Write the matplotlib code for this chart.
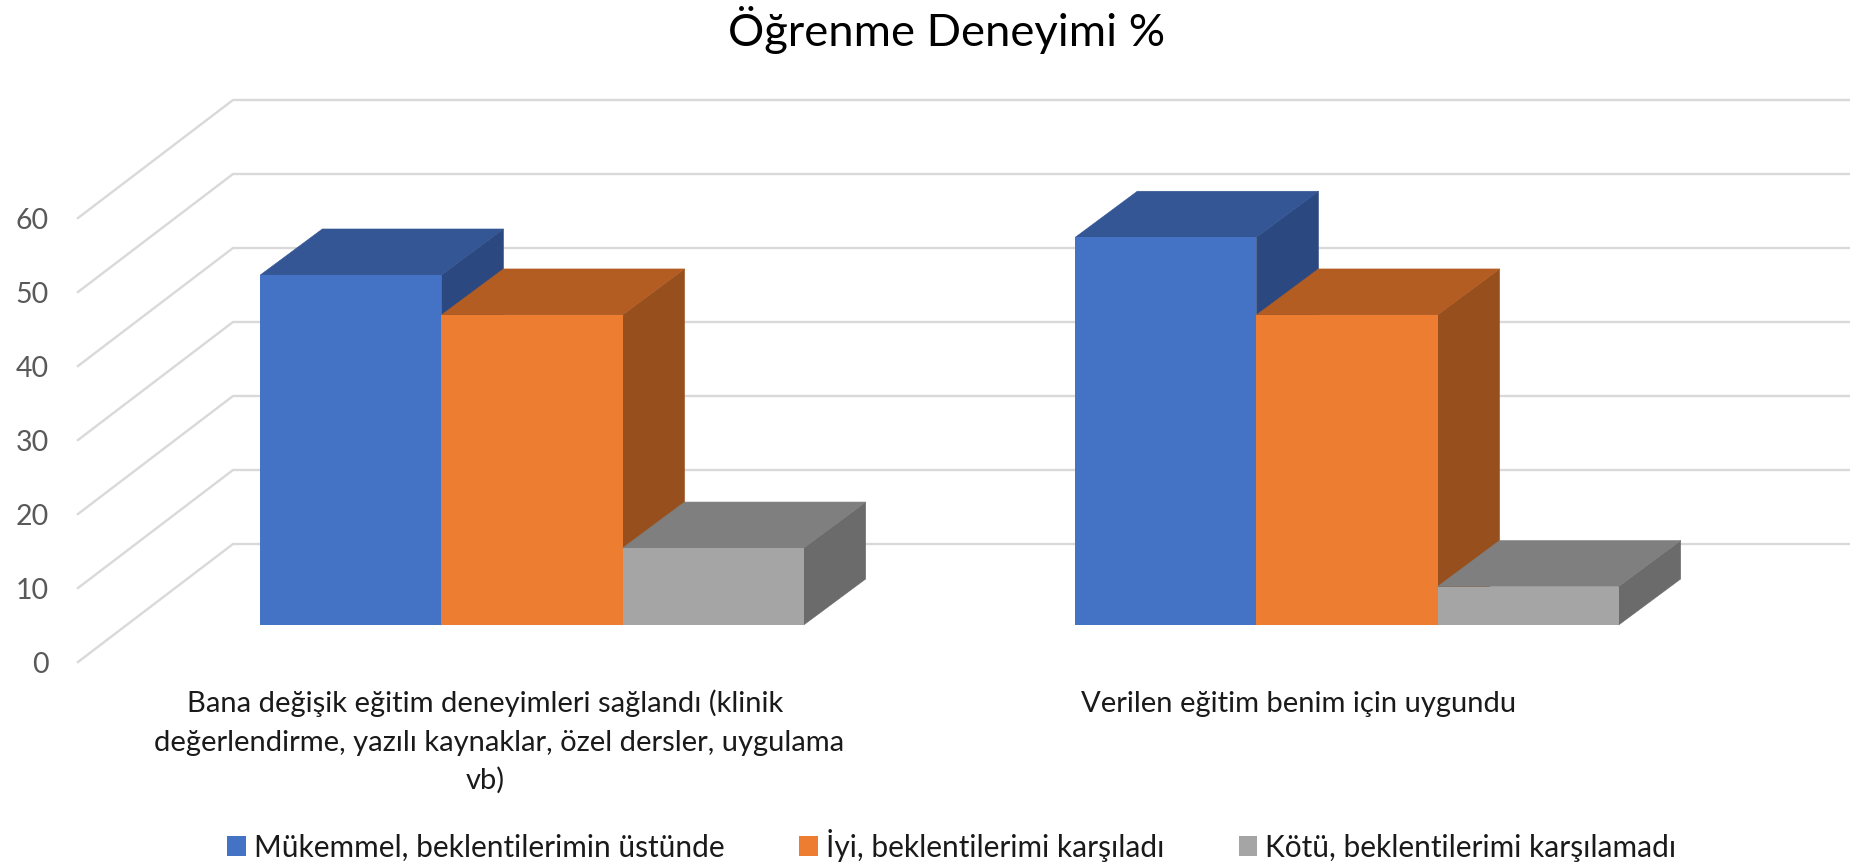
import numpy as np
import matplotlib
matplotlib.use("Agg")
import matplotlib.pyplot as plt

plt.rcParams['font.family'] = ['Lato', 'DejaVu Sans']

category_lines = [["Bana değişik eğitim deneyimleri sağlandı (klinik",
                   "değerlendirme, yazılı kaynaklar, özel dersler, uygulama",
                   "vb)"],
                  ["Verilen eğitim benim için uygundu"]]
series_names = ["Mükemmel, beklentilerimin üstünde", "İyi, beklentilerimi karşıladı", "Kötü, beklentilerimi karşılamadı"]
mukemmel = [47.3, 52.4]
iyi = [41.9, 41.9]
kotu = [10.4, 5.2]
yticks = [0, 10, 20, 30, 40, 50, 60]

front_colors = ["#4472C4", "#ED7D31", "#A5A5A5"]
top_colors = ["#345695", "#B35D23", "#7F7F7F"]
side_colors = ["#2B4880", "#97501D", "#6B6B6B"]

W, H = 1850, 866
PX_X = 815.0   # pixels per category
PX_Y = 7.4     # pixels per percent
X0, Y0 = 532.0, 625.0   # pixel position of category 0, value 0


def dx(px):
    return px / PX_X


def dy(px):
    return px / PX_Y


fig = plt.figure(figsize=(W / 100, H / 100), dpi=100)
ax = fig.add_axes([0, 0, 1, 1])
ax.set_xlim(-X0 / PX_X, (W - X0) / PX_X)
ax.set_ylim((Y0 - H) / PX_Y, Y0 / PX_Y)
ax.axis("off")

# floor and gridlines sit in front of / behind the plane of the bars
floor_left = dx(78 - X0)
floor_dx = dx(155)
floor_front = dy(-37)
floor_back = dy(81)
for v in yticks:
    ax.plot([floor_left, floor_left + floor_dx, (W - X0) / PX_X],
            [v + floor_front, v + floor_back, v + floor_back],
            color="#D9D9D9", lw=1.7, zorder=1, solid_joinstyle="miter")
    ax.text(dx(49 - X0), v + floor_front - dy(3), str(v), ha="right", va="center",
            fontsize=20.5, color="#595959")

x = np.arange(len(mukemmel))
bar_w = 2 / 9
depth_x = dx(62)
depth_y = dy(46)
series = [mukemmel, iyi, kotu]
handles = []
for i, vals in enumerate(series):
    pos = x + (i - 1) * bar_w
    bars = ax.bar(pos, vals, bar_w, color=front_colors[i], zorder=3 + i, label=series_names[i])
    handles.append(bars)
    for p, v in zip(pos, vals):
        l, r = p - bar_w / 2, p + bar_w / 2
        ax.fill([r, r + depth_x, r + depth_x, r], [0, depth_y, v + depth_y, v],
                color=side_colors[i], lw=0.4, zorder=2.5 + i)
        ax.fill([l, r, r + depth_x, l + depth_x], [v, v, v + depth_y, v + depth_y],
                color=top_colors[i], lw=0.4, zorder=2.6 + i)

# category labels, first one was wrapped with the middle line off centre
line_centers = [[485, 499, 485], [1299]]
line_baselines = [712, 751, 789]
for lines, centers in zip(category_lines, line_centers):
    for line, cx, by in zip(lines, centers, line_baselines):
        ax.text(dx(cx - X0), dy(Y0 - by), line, ha="center", va="baseline",
                fontsize=21, color="#1A1A1A")

fig.text(947 / W, 1 - 30 / H, "Öğrenme Deneyimi %", ha="center", va="center", fontsize=32.7, color="black")

ax.legend(handles=handles, ncol=3, loc="center", bbox_to_anchor=(952 / W, 1 - 845 / H),
          frameon=False, fontsize=21.5, handlelength=0.62, handleheight=0.62,
          handletextpad=0.27, columnspacing=2.5, labelcolor="#1A1A1A")

fig.savefig("out.png", dpi=100)
